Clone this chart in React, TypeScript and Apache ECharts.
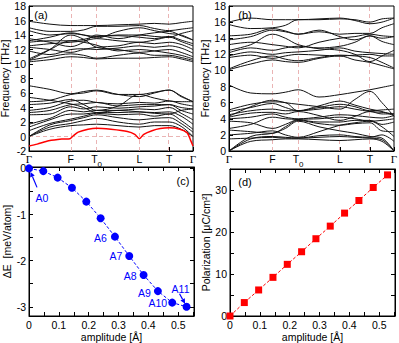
import React, { useEffect, useRef } from 'react';
import * as echarts from 'echarts';

// ---------- data ----------
const kPathLabels = ['Γ', 'F', 'T0', 'L', 'T', 'Γ'];
const kPathA = [0, 0.255, 0.412, 0.673, 0.855, 1];
const kPathB = [0, 0.264, 0.419, 0.672, 0.854, 1];

// bands sampled at Γ, ½, F, ½, T0, ½, L, ½, T, ½, Γ  (THz)
const bandsA: number[][] = [
  [0, 1.0, 1.5, 1.6, 1.7, 1.5, 1.3, 1.5, 1.5, 1.0, 0],
  [0, 1.3, 1.8, 2.2, 2.5, 2.0, 1.7, 2.0, 2.0, 1.4, 0],
  [0, 1.6, 2.2, 2.6, 3.0, 2.6, 2.3, 2.5, 2.6, 1.8, 0.6],
  [0.8, 1.8, 2.4, 2.8, 3.2, 3.0, 3.1, 2.8, 3.1, 2.2, 1.0],
  [1.3, 2.3, 3.1, 3.1, 3.3, 3.3, 3.4, 3.3, 3.4, 2.8, 1.7],
  [1.7, 2.5, 3.6, 3.4, 3.6, 3.6, 3.8, 3.7, 4.0, 3.2, 2.3],
  [3.0, 3.1, 4.1, 3.8, 4.1, 3.9, 4.1, 4.2, 4.4, 3.6, 3.1],
  [3.3, 3.6, 4.4, 4.5, 4.7, 4.2, 4.4, 4.4, 4.4, 4.0, 3.8],
  [3.6, 4.0, 4.9, 5.0, 4.7, 4.5, 4.7, 4.6, 4.9, 4.5, 4.2],
  [4.4, 4.6, 5.1, 4.4, 3.6, 4.2, 5.8, 5.3, 4.9, 4.8, 4.8],
  [4.8, 5.0, 5.8, 6.0, 6.3, 5.8, 5.8, 6.1, 6.4, 5.6, 4.8],
  [5.4, 5.0, 4.5, 4.0, 3.3, 3.6, 3.4, 3.2, 3.1, 3.6, 3.8],
  [7.0, 6.5, 5.9, 6.2, 6.4, 5.8, 5.5, 6.0, 6.4, 5.5, 4.8],
  [10.3, 10.6, 11.0, 10.9, 10.7, 10.8, 10.8, 10.9, 11.0, 10.7, 10.3],
  [10.5, 11.0, 11.4, 11.2, 10.8, 11.2, 11.5, 11.2, 11.2, 10.9, 10.5],
  [10.7, 12.0, 13.2, 13.0, 12.6, 11.8, 12.0, 11.8, 11.5, 11.2, 10.7],
  [11.8, 11.3, 12.0, 12.1, 12.0, 12.2, 12.5, 12.3, 12.5, 12.2, 11.5],
  [12.3, 12.0, 11.6, 12.0, 12.3, 12.5, 13.0, 12.8, 13.0, 12.7, 12.0],
  [12.5, 12.8, 13.0, 13.2, 13.5, 13.2, 13.0, 13.3, 13.7, 13.1, 12.5],
  [13.0, 13.2, 13.2, 13.4, 13.8, 13.9, 13.7, 13.5, 13.8, 13.3, 12.8],
  [13.5, 13.0, 12.4, 13.0, 14.0, 13.5, 14.0, 14.3, 14.5, 13.9, 13.3],
  [14.6, 14.0, 14.2, 14.0, 13.8, 14.0, 14.0, 13.8, 13.7, 14.2, 14.6],
  [15.0, 14.5, 14.5, 14.7, 15.2, 15.2, 15.3, 14.9, 14.6, 14.8, 15.0],
  [15.9, 15.5, 15.3, 15.3, 15.3, 15.4, 15.5, 15.6, 15.5, 15.7, 15.9],
  [10.5, 12.0, 14.0, 13.4, 12.3, 12.0, 11.6, 11.8, 12.0, 11.6, 11.0],
  [13.2, 13.7, 14.3, 14.0, 13.6, 14.5, 15.0, 14.6, 14.2, 14.0, 13.3],
];

// soft (unstable) mode of panel (a)
const softK = [0, 0.05, 0.12, 0.2, 0.25, 0.27, 0.3, 0.36, 0.412, 0.5, 0.6, 0.645, 0.673, 0.7, 0.75, 0.8, 0.855, 0.92, 0.965, 0.985, 1];
const softF = [-1.3, -1.05, -0.6, -0.35, -0.3, 0.1, 0.6, 1.0, 1.15, 1.0, 0.7, 0.3, -0.3, 0.3, 0.8, 1.1, 1.2, 1.0, 0.5, -0.5, -1.3];

const bandsB: number[][] = [
  [0, 1.2, 1.4, 1.5, 1.5, 1.4, 1.3, 1.4, 1.5, 1.2, 0],
  [0, 1.5, 1.8, 1.7, 1.6, 1.7, 1.8, 1.7, 1.6, 1.4, 0],
  [0, 1.8, 2.2, 2.8, 3.7, 3.0, 2.5, 2.2, 1.8, 1.6, 0],
  [1.5, 1.6, 1.7, 1.6, 1.6, 1.9, 2.0, 1.8, 1.7, 2.0, 1.2],
  [2.0, 2.2, 2.5, 2.0, 1.7, 2.4, 3.2, 3.5, 3.7, 3.0, 1.8],
  [2.6, 2.4, 2.2, 3.0, 3.8, 3.4, 3.2, 3.4, 3.5, 2.5, 2.4],
  [2.8, 3.3, 4.2, 4.0, 3.9, 3.6, 3.6, 3.8, 3.8, 3.3, 3.6],
  [3.7, 3.5, 2.8, 3.3, 3.9, 4.0, 4.2, 4.0, 3.7, 3.8, 4.0],
  [4.0, 4.2, 4.6, 4.2, 4.0, 4.2, 4.5, 4.4, 4.2, 4.1, 4.4],
  [4.2, 4.7, 4.8, 4.6, 4.9, 4.4, 3.8, 4.3, 4.9, 4.6, 4.6],
  [4.5, 5.0, 5.2, 5.0, 5.0, 5.2, 5.5, 5.2, 4.9, 4.8, 4.6],
  [4.9, 5.4, 5.9, 5.4, 5.0, 5.6, 6.2, 5.7, 5.2, 4.9, 4.4],
  [5.1, 5.8, 6.1, 6.0, 5.0, 5.4, 5.8, 5.5, 5.0, 5.1, 5.2],
  [8.2, 7.2, 7.1, 7.3, 7.6, 6.7, 7.0, 7.3, 7.6, 7.9, 8.2],
  [4.3, 5.5, 6.3, 6.0, 5.8, 5.5, 5.2, 6.4, 7.4, 6.0, 4.3],
  [10.1, 10.8, 11.3, 11.1, 11.0, 11.5, 11.8, 11.3, 11.0, 10.6, 10.2],
  [10.2, 11.2, 11.8, 11.4, 11.2, 11.6, 11.9, 11.8, 11.6, 11.0, 10.3],
  [11.6, 11.9, 11.5, 11.8, 12.0, 11.9, 11.8, 11.9, 12.0, 11.8, 11.8],
  [11.8, 12.3, 12.0, 12.2, 12.3, 12.5, 12.8, 12.4, 12.2, 12.1, 12.0],
  [12.2, 12.8, 12.5, 12.8, 13.0, 12.7, 12.5, 12.0, 11.1, 11.8, 12.5],
  [12.5, 13.2, 14.5, 14.0, 13.2, 12.8, 13.0, 13.5, 14.3, 13.6, 13.2],
  [13.2, 13.5, 13.2, 13.0, 12.8, 13.5, 14.0, 14.2, 14.5, 14.3, 14.2],
  [13.8, 14.2, 15.0, 14.8, 14.5, 14.8, 14.5, 14.6, 14.6, 15.3, 15.8],
  [14.3, 14.5, 15.2, 14.9, 14.5, 15.0, 14.2, 13.8, 14.3, 14.0, 14.2],
  [15.7, 15.2, 15.3, 15.6, 16.3, 16.3, 16.4, 16.3, 16.0, 16.4, 16.5],
  [16.0, 16.5, 16.3, 16.3, 16.3, 16.4, 16.5, 16.2, 15.8, 16.0, 16.5],
];

const amplitude = [0, 0.048, 0.096, 0.144, 0.192, 0.24, 0.288, 0.336, 0.384, 0.432, 0.48, 0.528];
const deltaE = [0, -0.06, -0.2, -0.42, -0.72, -1.08, -1.48, -1.9, -2.31, -2.66, -2.91, -3.0];
const polarization = [0, 3.2, 6.2, 9.2, 12.3, 15.3, 18.4, 21.4, 24.5, 27.5, 30.6, 33.6];
const pointNames = ['A0', '', '', '', '', '', 'A6', 'A7', 'A8', 'A9', 'A10', 'A11'];

const ampTicks = [0, 0.1, 0.2, 0.3, 0.4, 0.5];
const ampMinor = [0, 0.05, 0.1, 0.15, 0.2, 0.25, 0.3, 0.35, 0.4, 0.45, 0.5, 0.55];
const eTicks = [-3, -2, -1, 0];
const eMinor = [-3, -2.5, -2, -1.5, -1, -0.5, 0];
const pTicks = [0, 10, 20, 30];
const pMinor = [0, 5, 10, 15, 20, 25, 30, 35];

// ---------- styles ----------
const FONT = 'Liberation Sans';
const DASH_PINK = '#eab4b4';
const BLUE = '#0000ff';
const RED = '#ff0000';

// label placement for panel (c) annotations (pixel offsets, style only)
const labelPlacement: Record<string, any> = {
  A0: { position: 'inside', offset: [13, 30] },
  A6: { position: 'left', distance: 4, offset: [0, 1] },
  A7: { position: 'left', distance: 3, offset: [0, 0] },
  A8: { position: 'left', distance: 3, offset: [0, 1] },
  A9: { position: 'left', distance: 3, offset: [0, 2] },
  A10: { position: 'left', distance: 1, offset: [0, 0] },
  A11: { position: 'inside', offset: [-6, -18] },
};

function samplePositions(hs: number[]) {
  const out: number[] = [];
  for (let i = 0; i < hs.length - 1; i++) out.push(hs[i], (hs[i] + hs[i + 1]) / 2);
  out.push(hs[hs.length - 1]);
  return out;
}

function kLabelFormatter(path: number[]) {
  return (v: number) => {
    let idx = 0;
    let best = Infinity;
    path.forEach((p, i) => {
      if (Math.abs(p - v) < best) { best = Math.abs(p - v); idx = i; }
    });
    const l = kPathLabels[idx];
    if (l === 'Γ') return '{g|Γ}';
    if (l === 'T0') return '{m|T}{s|0}';
    return '{m|' + l + '}';
  };
}

const kRich = {
  g: { fontFamily: 'Liberation Serif', fontSize: 11, color: '#000', verticalAlign: 'top', lineHeight: 12 },
  m: { fontFamily: FONT, fontSize: 10.5, color: '#000', verticalAlign: 'top', lineHeight: 12 },
  s: { fontFamily: FONT, fontSize: 8, color: '#000', verticalAlign: 'top', lineHeight: 10, padding: [7, 0, 0, 0] },
};

const axisLine = { show: true, onZero: false, lineStyle: { color: '#000', width: 1 } };
const numLabel = { color: '#000', fontSize: 10.5, fontFamily: FONT, margin: 3 };
const nameStyle = { color: '#000', fontSize: 10.5, fontFamily: FONT };

export default function App() {
  const ref = useRef<HTMLDivElement>(null);

  useEffect(() => {
    document.body.style.margin = '0';
    if (!ref.current) return;
    const chart = echarts.init(ref.current, undefined, { renderer: 'svg' });

    const kA = samplePositions(kPathA);
    const kB = samplePositions(kPathB);

    const bandSeries = (bands: number[][], kk: number[], axis: number, path: number[], zeroLine: boolean) =>
      bands.map((b, bi) => {
        const s: any = {
          type: 'line',
          xAxisIndex: axis,
          yAxisIndex: axis,
          data: b.map((f, i) => [kk[i], f]),
          showSymbol: false,
          symbol: 'none',
          smooth: 0.35,
          silent: true,
          lineStyle: { color: '#111', width: 1 },
          z: 3,
        };
        if (bi === 0) {
          const ml: any[] = path.slice(1, path.length - 1).map((p) => ({ xAxis: p }));
          if (zeroLine) ml.push({ yAxis: 0 });
          s.markLine = {
            silent: true,
            symbol: 'none',
            label: { show: false },
            lineStyle: { color: DASH_PINK, type: [4, 3], width: 1, opacity: 1 },
            emphasis: { disabled: true },
            data: ml,
            z: 1,
          };
        }
        return s;
      });

    const series: any[] = [
      ...bandSeries(bandsA, kA, 0, kPathA, true),
      {
        type: 'line',
        xAxisIndex: 0,
        yAxisIndex: 0,
        data: softK.map((k, i) => [k, softF[i]]),
        showSymbol: false,
        symbol: 'none',
        smooth: 0.25,
        silent: true,
        lineStyle: { color: RED, width: 1.5 },
        z: 4,
      },
      ...bandSeries(bandsB, kB, 1, kPathB, false),
      {
        type: 'line',
        xAxisIndex: 2,
        yAxisIndex: 2,
        data: amplitude.map((a, i) => {
          const name = pointNames[i];
          const pl = labelPlacement[name];
          return {
            value: [a, deltaE[i]],
            label: name
              ? { show: true, formatter: name, color: BLUE, fontSize: 10.5, fontFamily: FONT, ...pl }
              : { show: false },
          };
        }),
        symbol: 'circle',
        symbolSize: 8,
        itemStyle: { color: BLUE },
        lineStyle: { color: BLUE, type: [3, 2], width: 1 },
        z: 5,
      },
      {
        type: 'line',
        xAxisIndex: 3,
        yAxisIndex: 3,
        data: amplitude.map((a, i) => [a, polarization[i]]),
        symbol: 'rect',
        symbolSize: 7,
        itemStyle: { color: RED },
        lineStyle: { color: RED, type: [3, 2], width: 1 },
        z: 5,
      },
    ];

    const gridBox = { show: true, borderColor: '#000', borderWidth: 1, backgroundColor: 'transparent' };

    const option: any = {
      animation: false,
      textStyle: { fontFamily: FONT },
      grid: [
        { left: 29, top: 6, width: 164, height: 145, ...gridBox, outerBoundsMode: 'none' },
        { left: 229, top: 6, width: 165, height: 145, ...gridBox, outerBoundsMode: 'none' },
        { left: 29, top: 167, width: 165, height: 149, ...gridBox, outerBoundsMode: 'none' },
        { left: 230, top: 169, width: 165, height: 147, ...gridBox, outerBoundsMode: 'none' },
      ],
      xAxis: [
        {
          gridIndex: 0, type: 'value', min: 0, max: 1,
          axisLine, splitLine: { show: false },
          axisTick: { show: true, inside: true, length: 4, customValues: kPathA, lineStyle: { color: '#000' } },
          axisLabel: { show: true, customValues: kPathA, formatter: kLabelFormatter(kPathA), rich: kRich, margin: 2 },
        },
        {
          gridIndex: 1, type: 'value', min: 0, max: 1,
          axisLine, splitLine: { show: false },
          axisTick: { show: true, inside: true, length: 4, customValues: kPathB, lineStyle: { color: '#000' } },
          axisLabel: { show: true, customValues: kPathB, formatter: kLabelFormatter(kPathB), rich: kRich, margin: 2 },
        },
        {
          gridIndex: 2, type: 'value', min: 0, max: 0.553,
          axisLine, splitLine: { show: false },
          axisTick: { show: true, inside: true, length: 4, customValues: ampMinor, lineStyle: { color: '#000' } },
          axisLabel: { ...numLabel, customValues: ampTicks },
          name: 'amplitude [Å]', nameLocation: 'middle', nameGap: 15, nameTextStyle: nameStyle,
        },
        {
          gridIndex: 3, type: 'value', min: 0, max: 0.553,
          axisLine, splitLine: { show: false },
          axisTick: { show: true, inside: true, length: 4, customValues: ampMinor, lineStyle: { color: '#000' } },
          axisLabel: { ...numLabel, customValues: ampTicks },
          name: 'amplitude [Å]', nameLocation: 'middle', nameGap: 15, nameTextStyle: nameStyle,
        },
        {
          gridIndex: 2, type: 'value', min: 0, max: 0.553, position: 'top',
          axisLine, splitLine: { show: false },
          axisTick: { show: true, inside: true, length: 4, customValues: ampMinor, lineStyle: { color: '#000' } },
          axisLabel: { show: false },
        },
        {
          gridIndex: 3, type: 'value', min: 0, max: 0.553, position: 'top',
          axisLine, splitLine: { show: false },
          axisTick: { show: true, inside: true, length: 4, customValues: ampMinor, lineStyle: { color: '#000' } },
          axisLabel: { show: false },
        },
      ],
      yAxis: [
        {
          gridIndex: 0, type: 'value', min: -2, max: 18, interval: 2,
          axisLine, splitLine: { show: false },
          axisTick: { show: true, inside: true, length: 4, lineStyle: { color: '#000' } },
          axisLabel: numLabel,
          name: 'Frequency [THz]', nameLocation: 'middle', nameGap: 16, nameTextStyle: nameStyle,
        },
        {
          gridIndex: 1, type: 'value', min: 0, max: 18, interval: 2,
          axisLine, splitLine: { show: false },
          axisTick: { show: true, inside: true, length: 4, lineStyle: { color: '#000' } },
          axisLabel: numLabel,
          name: 'Frequency [THz]', nameLocation: 'middle', nameGap: 16, nameTextStyle: nameStyle,
        },
        {
          gridIndex: 2, type: 'value', min: -3.2, max: 0.03,
          axisLine, splitLine: { show: false },
          axisTick: { show: true, inside: true, length: 4, customValues: eMinor, lineStyle: { color: '#000' } },
          axisLabel: { ...numLabel, customValues: eTicks },
          name: 'ΔE  [meV/atom]', nameLocation: 'middle', nameGap: 13, nameTextStyle: nameStyle,
        },
        {
          gridIndex: 3, type: 'value', min: 0, max: 35,
          axisLine, splitLine: { show: false },
          axisTick: { show: true, inside: true, length: 4, customValues: pMinor, lineStyle: { color: '#000' } },
          axisLabel: { ...numLabel, customValues: pTicks },
          name: 'Polarization [μC/cm²]', nameLocation: 'middle', nameGap: 16, nameTextStyle: nameStyle,
        },
        {
          gridIndex: 2, type: 'value', min: -3.2, max: 0.03, position: 'right',
          axisLine, splitLine: { show: false },
          axisTick: { show: true, inside: true, length: 4, customValues: eMinor, lineStyle: { color: '#000' } },
          axisLabel: { show: false },
        },
        {
          gridIndex: 3, type: 'value', min: 0, max: 35, position: 'right',
          axisLine, splitLine: { show: false },
          axisTick: { show: true, inside: true, length: 4, customValues: pMinor, lineStyle: { color: '#000' } },
          axisLabel: { show: false },
        },
      ],
      series,
    };

    chart.setOption(option);

    // annotations: panel letters and arrows anchored on converted data points
    const p0 = chart.convertToPixel({ gridIndex: 2 } as any, [amplitude[0], deltaE[0]]) as number[];
    const pl = amplitude.length - 1;
    const p11 = chart.convertToPixel({ gridIndex: 2 } as any, [amplitude[pl], deltaE[pl]]) as number[];

    const arrow = (tail: number[], head: number[]) => {
      const dx = head[0] - tail[0];
      const dy = head[1] - tail[1];
      const len = Math.sqrt(dx * dx + dy * dy);
      const ux = dx / len, uy = dy / len;
      const hl = 5, hw = 2.5;
      const bx = head[0] - ux * hl, by = head[1] - uy * hl;
      return [
        { type: 'line', shape: { x1: tail[0], y1: tail[1], x2: bx, y2: by }, style: { stroke: BLUE, lineWidth: 1.2 }, z: 10 },
        {
          type: 'polygon',
          shape: { points: [[head[0], head[1]], [bx - uy * hw, by + ux * hw], [bx + uy * hw, by - ux * hw]] },
          style: { fill: BLUE },
          z: 10,
        },
      ];
    };

    const letter = (text: string, x: number, y: number) => ({
      type: 'text', x, y, style: { text, fill: '#000', font: '11px "Liberation Sans"', textAlign: 'center', textVerticalAlign: 'middle' }, z: 10,
    });

    chart.setOption({
      graphic: [
        letter('(a)', 41, 15),
        letter('(b)', 245, 15),
        letter('(c)', 183, 181),
        letter('(d)', 245, 182),
        ...arrow([p0[0] + 8, p0[1] + 19], [p0[0] + 1.5, p0[1] + 3.5]),
        ...arrow([p11[0] - 7, p11[1] - 13], [p11[0] - 1.5, p11[1] - 3]),
      ],
    });

    return () => chart.dispose();
  }, []);

  return <div ref={ref} style={{ width: 399, height: 343 }} />;
}
